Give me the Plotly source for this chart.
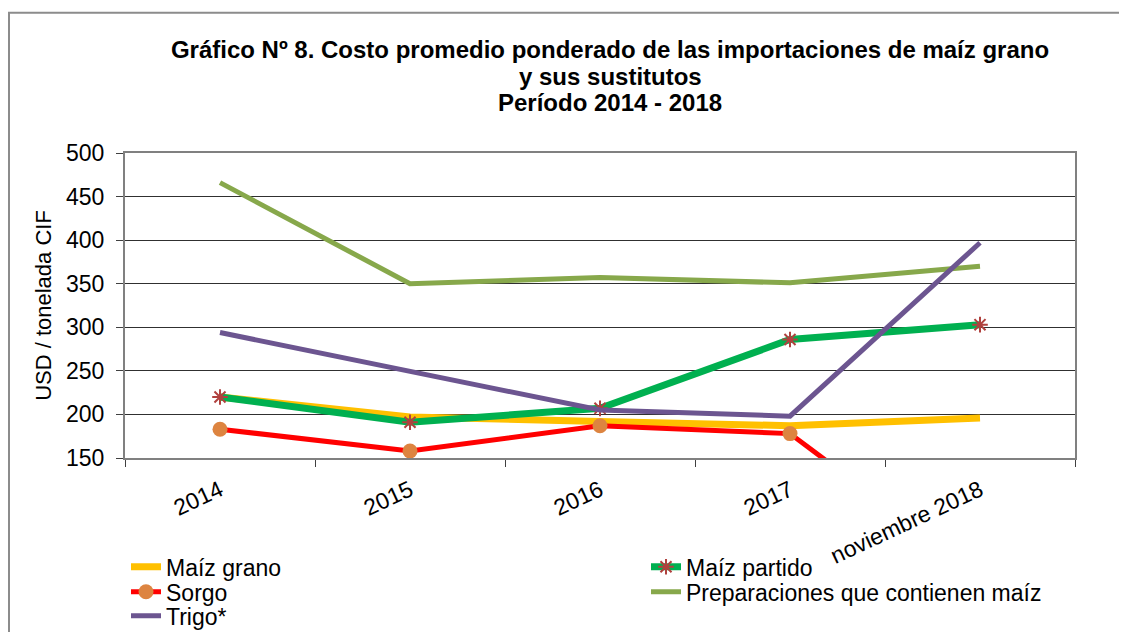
import plotly.graph_objects as go

years = ['2014', '2015', '2016', '2017', 'noviembre 2018']

maiz_grano = [220, 197, 192, 187, 196]
maiz_partido = [220, 191, 207, 286, 303]
sorgo = [183, 158, 187, 178, 15]
preparaciones = [466, 350, 357, 351, 370]
trigo = [294, 250, 205, 198, 397]

FONT = 'Liberation Sans, Arial, sans-serif'

# the page body has an 8px margin, so work in reference pixels and shift
OFF = 8
W, H = 1127 - OFF, 632 - OFF
L, R, T, B = 125 - OFF, 1075 - OFF, 152.5 - OFF, 458 - OFF


def px_x(px):
	return (px - OFF - L) / (R - L)


def px_y(py):
	return (B - (py - OFF)) / (B - T)


fig = go.Figure()

fig.add_trace(go.Scatter(
	x=years, y=maiz_grano, name='Maíz grano', mode='lines',
	line=dict(color='#FFC000', width=7), legend='legend',
))
fig.add_trace(go.Scatter(
	x=years, y=maiz_partido, name='Maíz partido', mode='lines+markers',
	line=dict(color='#00B050', width=7), legend='legend2',
	marker=dict(symbol='asterisk-open', size=13, color='#B0413E',
		line=dict(color='#B0413E', width=2)),
))
fig.add_trace(go.Scatter(
	x=years, y=sorgo, name='Sorgo', mode='lines+markers',
	line=dict(color='#FF0000', width=5), legend='legend3',
	marker=dict(symbol='circle', size=15, color='#DD8440'),
))
fig.add_trace(go.Scatter(
	x=years, y=preparaciones, name='Preparaciones que contienen maíz', mode='lines',
	line=dict(color='#87A84B', width=5), legend='legend4',
))
fig.add_trace(go.Scatter(
	x=years, y=trigo, name='Trigo*', mode='lines',
	line=dict(color='#6C5590', width=5), legend='legend5',
))


def legend_at(x, y):
	return dict(
		x=px_x(x), xanchor='left', y=px_y(y), yanchor='middle',
		font=dict(family=FONT, size=23, color='black'),
		bgcolor='rgba(0,0,0,0)', borderwidth=0,
	)


fig.update_layout(
	width=W, height=H,
	margin=dict(l=L, r=W - R, t=T, b=H - B, autoexpand=False),
	paper_bgcolor='white', plot_bgcolor='white',
	font=dict(family=FONT, size=22, color='black'),
	title=dict(
		text='<b>Gráfico Nº 8. Costo promedio ponderado de las importaciones de maíz grano</b>',
		x=(610 - OFF) / W, xanchor='center', y=1 - (50 - OFF) / H, yanchor='middle',
		font=dict(family=FONT, size=24, color='black'),
	),
	showlegend=True,
	legend=legend_at(126, 567),
	legend2=legend_at(646, 567),
	legend3=legend_at(126, 592),
	legend4=legend_at(646, 592),
	legend5=legend_at(126, 616),
)

for text, y in [('<b>y sus sustitutos</b>', 76), ('<b>Período 2014 - 2018</b>', 102)]:
	fig.add_annotation(
		text=text, xref='paper', yref='paper', x=px_x(610), y=px_y(y),
		xanchor='center', yanchor='middle', showarrow=False,
		font=dict(family=FONT, size=24, color='black'),
	)

fig.update_xaxes(
	type='category', range=[-0.5, 4.5],
	showgrid=False, tickson='boundaries', ticks='outside', ticklen=7,
	tickcolor='#404040', tickangle=-25, ticklabelstandoff=8,
	tickfont=dict(family=FONT, size=23, color='black'),
	showline=True, linecolor='#808080', linewidth=2, mirror=True,
)
fig.update_yaxes(
	range=[150, 500], dtick=50, tick0=150,
	showgrid=True, gridcolor='#303030', gridwidth=1,
	ticks='outside', ticklen=7, tickcolor='#404040', ticklabelstandoff=7,
	tickfont=dict(family=FONT, size=23, color='black'),
	showline=True, linecolor='#808080', linewidth=2, mirror=True,
	zeroline=False,
	title=dict(text='USD / tonelada CIF', font=dict(family=FONT, size=22, color='black'), standoff=8),
)

# outer chart border
fig.add_shape(
	type='rect', xref='paper', yref='paper',
	x0=px_x(9), x1=px_x(1140), y0=px_y(645), y1=px_y(12),
	line=dict(color='#8C8C8C', width=2), fillcolor='rgba(0,0,0,0)',
	layer='below',
)

fig.write_html('out.html')
